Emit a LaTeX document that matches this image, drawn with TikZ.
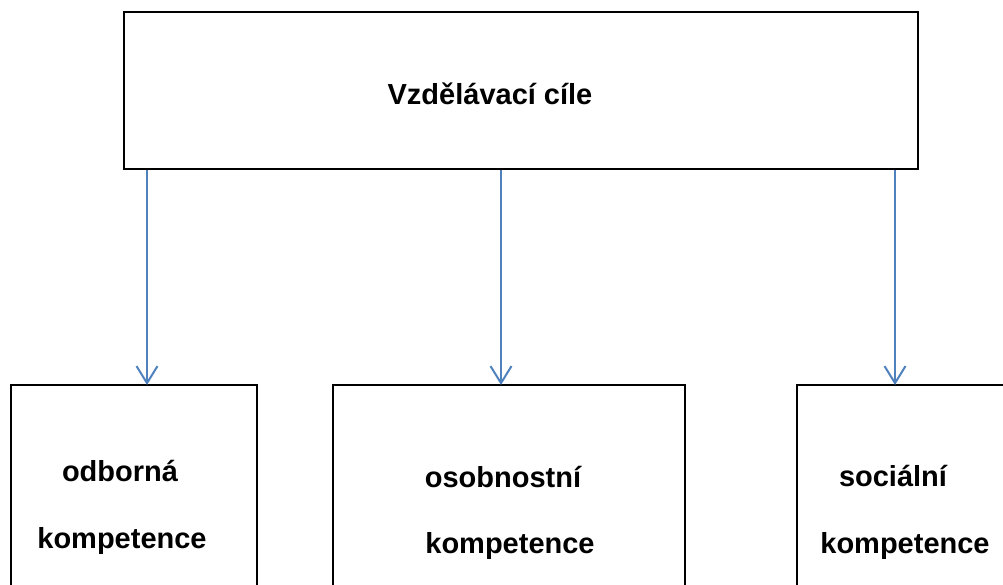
\documentclass[tikz,border=0pt]{standalone}
\usepackage{fontspec}
\setmainfont{Liberation Sans}
\usetikzlibrary{arrows.meta}
\definecolor{arrowblue}{RGB}{79,129,189}
\tikzset{
  frame/.style={draw=black, line width=2.5pt, inner sep=0pt},
  lbl/.style={font=\fontsize{29}{35}\selectfont\bfseries, anchor=base, inner sep=0pt},
  arr/.style={draw=arrowblue, line width=2pt, -{Straight Barb[length=17pt,width=21pt,line width=2pt]}}
}
\begin{document}
\begin{tikzpicture}[x=1pt,y=-1pt]
\useasboundingbox (0,0) rectangle (1003,585);
\clip (0,0) rectangle (1003,585);
% boxes
\node[frame, minimum width=794pt, minimum height=157pt] (top) at (521,90.5) {};
\node[frame, minimum width=246pt, minimum height=235pt] (box1) at (134,502.5) {};
\node[frame, minimum width=352pt, minimum height=235pt] (box2) at (509,502.5) {};
\node[frame, minimum width=243pt, minimum height=235pt] (box3) at (918.5,502.5) {};
\coordinate (b1) at (147,385);
\coordinate (b2) at (501,385);
\coordinate (b3) at (895,385);
% texts
\node[lbl] (title) at (490,105) {Vzdělávací cíle};
\node[lbl] (o1) at (120,481) {odborná};
\node[lbl] (k1) at (122,548) {kompetence};
\node[lbl] (o2) at (503,487) {osobnostní};
\node[lbl] (k2) at (510,553) {kompetence};
\node[lbl] (o3) at (893,486) {sociální};
\node[lbl] (k3) at (905,553) {kompetence};
% arrows
\draw[arr] (top.south -| b1) -- (b1);
\draw[arr] (top.south -| b2) -- (b2);
\draw[arr] (top.south -| b3) -- (b3);
\end{tikzpicture}
\end{document}
